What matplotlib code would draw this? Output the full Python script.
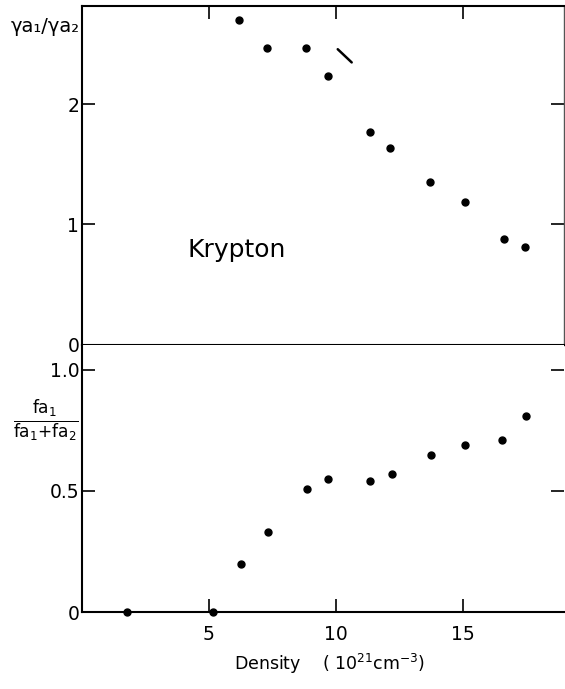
import matplotlib
matplotlib.use("Agg")
import matplotlib.pyplot as plt

plt.rcParams['font.family'] = ['DejaVu Sans']
plt.rcParams['mathtext.default'] = 'regular'
plt.rcParams['mathtext.fontset'] = 'dejavusans'

# Top panel: gamma ratio vs density
density_top = [6.19, 7.30, 8.83, 9.69, 11.35, 12.13, 13.70, 15.07, 16.60, 17.45]
gamma_ratio = [2.70, 2.47, 2.47, 2.24, 1.77, 1.64, 1.35, 1.19, 0.88, 0.81]

# Bottom panel: oscillator fraction vs density
density_bot = [1.76, 5.17, 6.26, 7.32, 8.87, 9.69, 11.34, 12.20, 13.74, 15.08, 16.54, 17.48]
f_fraction = [0.0, 0.0, 0.20, 0.33, 0.51, 0.55, 0.54, 0.57, 0.65, 0.69, 0.71, 0.81]

# small stroke visible in the top panel
stroke_x = [10.07, 10.62]
stroke_y = [2.46, 2.35]

xticks = [5, 10, 15]
yticks_top = [0, 1, 2]
yticks_bot = [0, 0.5, 1.0]
ytick_labels_bot = ['0', '0.5', '1.0']

W, H = 565, 689
fig = plt.figure(figsize=(W / 100, H / 100), dpi=100)
left = 82 / W
width = (564 - 82) / W
ax1 = fig.add_axes([left, 1 - 344.5 / H, width, (344.5 - 6) / H])
ax2 = fig.add_axes([left, 1 - 612 / H, width, (612 - 344.5) / H])

lw = 1.5
for ax in (ax1, ax2):
    ax.set_xlim(0, 18.98)
    for s in ax.spines.values():
        s.set_linewidth(lw)
        s.set_color('black')
    ax.tick_params(direction='in', length=9.4, width=1.2, labelsize=13.5,
                   top=False, right=True, pad=2, color='black')

# top panel
ax1.plot(density_top, gamma_ratio, 'o', color='black', ms=5, clip_on=False)
ax1.plot(stroke_x, stroke_y, '-', color='black', lw=1.8, solid_capstyle='round')
ax1.set_ylim(0, 2.82)
ax1.set_yticks(yticks_top)
ax1.set_yticklabels([str(v) for v in yticks_top])
ax1.set_xticks(xticks)
ax1.tick_params(axis='x', bottom=False, top=True, labelbottom=False)
ax1.spines['right'].set_color('#555555')
ax1.spines['right'].set_linewidth(1.0)
ax1.text(4.17, 0.73, 'Krypton', fontsize=18, ha='left', va='baseline')
fig.text(45 / W, 1 - 27 / H, 'γa₁/γa₂', fontsize=14, ha='center', va='center')

# bottom panel
ax2.plot(density_bot, f_fraction, 'o', color='black', ms=5, clip_on=False, zorder=5)
ax2.set_ylim(0, 1.105)
ax2.set_yticks(yticks_bot)
ax2.set_yticklabels(ytick_labels_bot)
ax2.set_xticks(xticks)
ax2.set_xticklabels([str(v) for v in xticks])
ax2.tick_params(axis='x', bottom=True, top=False, pad=9)
ax2.spines['right'].set_visible(False)
ax2.spines['top'].set_visible(False)
fig.text(46 / W, 1 - 421 / H, r'$\frac{fa_1}{fa_1{+}fa_2}$', fontsize=17.5,
         ha='center', va='center')
fig.text(330 / W, 1 - 664 / H, r'Density    ( $10^{21}$cm$^{-3}$)', fontsize=12.5,
         ha='center', va='center')

fig.savefig('out.png', dpi=100)
